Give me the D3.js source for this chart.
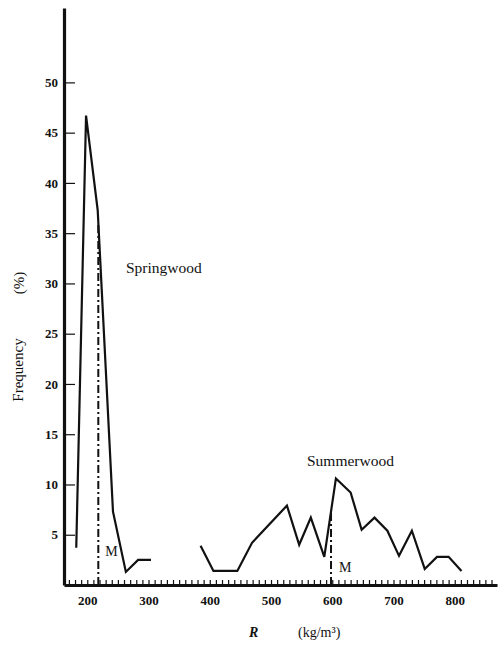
<!DOCTYPE html>
<html lang="en">

<head>
    <meta charset="UTF-8">
    <title>Frequency of R</title>
    <script src="https://cdn.jsdelivr.net/npm/d3@7"></script>
    <style>
        body {
            margin: 0;
            background: white;
        }

        text {
            font-family: "Liberation Serif", "DejaVu Serif", serif;
            fill: #111;
        }

        .tick text {
            font-size: 13px;
            font-weight: bold;
        }
    </style>
</head>

<body>
    <svg id="chart" width="498" height="646"></svg>

    <script type="text/javascript">

        // springwood curve, R in kg/m3 and frequency in %
        const springR = [182, 198, 217, 242, 263, 283, 304]
        const springF = [3.7, 46.7, 37.3, 7.3, 1.3, 2.5, 2.5]

        // summerwood curve
        const summerR = [385, 406, 445, 469, 526, 546, 565, 587, 606, 630, 648, 669, 690, 709, 730, 751, 771, 790, 811]
        const summerF = [3.9, 1.4, 1.4, 4.2, 7.9, 4.0, 6.7, 2.8, 10.6, 9.2, 5.5, 6.7, 5.4, 2.9, 5.4, 1.6, 2.8, 2.8, 1.4]

        // means (M)
        const springMean = 218
        const summerMean = 598

        const yTicks = [5, 10, 15, 20, 25, 30, 35, 40, 45, 50]
        const xLabels = [200, 300, 400, 500, 600, 700, 800]

        svg = d3.select('#chart')

        x = d3.scaleLinear().domain([162, 869]).range([64, 497])
        y = d3.scaleLinear().domain([0, 57.4]).range([585, 8])

        xTicks = d3.range(170, 861, 10)

        // y axis, ticks pointing inward
        gy = svg.append('g')
            .attr('transform', `translate(${x(162)},0)`)
            .call(d3.axisLeft(y)
                .tickValues(yTicks)
                .tickSize(-11)
                .tickSizeOuter(0)
                .tickPadding(6))
        gy.select('.domain').attr('stroke-width', 3.2).attr('stroke', '#111')
        gy.selectAll('.tick line').attr('stroke-width', 1.2).attr('stroke', '#111')

        // x axis, small ticks every 10
        gx = svg.append('g')
            .attr('transform', `translate(0,${y(0)})`)
            .call(d3.axisBottom(x)
                .tickValues(xTicks)
                .tickSize(-5)
                .tickSizeOuter(0)
                .tickPadding(11)
                .tickFormat(d => xLabels.includes(d) ? d : ''))
        gx.select('.domain').attr('stroke-width', 3).attr('stroke', '#111')
        gx.selectAll('.tick line').attr('stroke-width', 1.2).attr('stroke', '#111')

        line = d3.line()
            .x(d => x(d[0]))
            .y(d => y(d[1]))

        spring = d3.zip(springR, springF)
        summer = d3.zip(summerR, summerF)

        svg.append('path')
            .datum(spring)
            .attr('d', line)
            .attr('fill', 'none')
            .attr('stroke', '#111')
            .attr('stroke-width', 2.2)
            .attr('stroke-linejoin', 'miter')

        svg.append('path')
            .datum(summer)
            .attr('d', line)
            .attr('fill', 'none')
            .attr('stroke', '#111')
            .attr('stroke-width', 2.2)

        // value of a curve at r, to stop the mean line on it
        function curveAt(rs, fs, r) {
            i = d3.bisectLeft(rs, r)
            t = (r - rs[i - 1]) / (rs[i] - rs[i - 1])
            return fs[i - 1] + t * (fs[i] - fs[i - 1])
        }

        means = [
            { r: springMean, f: curveAt(springR, springF, springMean), dx: 7, dy: -29 },
            { r: summerMean, f: curveAt(summerR, summerF, summerMean), dx: 8, dy: -13 }
        ]

        means.forEach(m => {
            svg.append('line')
                .attr('x1', x(m.r))
                .attr('x2', x(m.r))
                .attr('y1', y(0))
                .attr('y2', y(m.f))
                .attr('stroke', '#111')
                .attr('stroke-width', 2)
                .attr('stroke-dasharray', '8,3,2,3')

            svg.append('text')
                .attr('x', x(m.r) + m.dx)
                .attr('y', y(0) + m.dy)
                .style('font-size', '14px')
                .text('M')
        })

        svg.append('text')
            .attr('x', 126)
            .attr('y', 273)
            .style('font-size', '15.5px')
            .text('Springwood')

        svg.append('text')
            .attr('x', 307)
            .attr('y', 466)
            .style('font-size', '15.5px')
            .text('Summerwood')

        // axis titles
        svg.append('text')
            .attr('transform', 'translate(23,370) rotate(-90)')
            .attr('text-anchor', 'middle')
            .style('font-size', '15px')
            .text('Frequency')

        svg.append('text')
            .attr('transform', 'translate(24,283) rotate(-90)')
            .attr('text-anchor', 'middle')
            .style('font-size', '15px')
            .text('(%)')

        svg.append('text')
            .attr('x', 249)
            .attr('y', 637)
            .style('font-size', '14px')
            .style('font-style', 'italic')
            .style('font-weight', 'bold')
            .text('R')

        svg.append('text')
            .attr('x', 298)
            .attr('y', 637)
            .style('font-size', '14px')
            .text('(kg/m³)')

    </script>
</body>

</html>
